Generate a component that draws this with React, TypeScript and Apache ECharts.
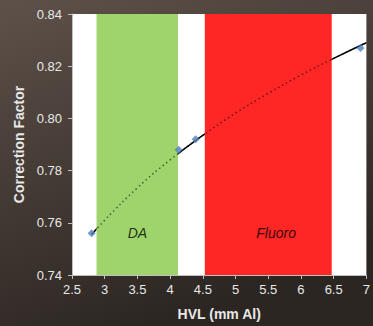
import React, { useEffect, useRef } from "react";
import * as echarts from "echarts";

const pointX = [2.8, 4.13, 4.39, 6.91];
const pointY = [0.756, 0.788, 0.792, 0.827];

const trendX = [2.8, 3, 3.5, 4, 4.5, 5, 5.5, 6, 6.5, 7];
const trendY = [0.7555, 0.761, 0.7734, 0.7841, 0.7935, 0.802, 0.8096, 0.8166, 0.823, 0.829];

const bandNames = ["DA", "Fluoro"];
const bandStart = [2.875, 4.53];
const bandEnd = [4.12, 6.47];
const bandLabelX = [3.5, 5.62];
const bandLabelY = [0.756, 0.756];

const yTicks = ["0.74", "0.76", "0.78", "0.80", "0.82", "0.84"];

export default function App() {
  const ref = useRef<HTMLDivElement>(null);
  useEffect(() => {
    document.body.style.margin = "0";
    const chart = echarts.init(ref.current!, null, { renderer: "svg" });
    const font = "Liberation Sans, Arial, sans-serif";
    const bandColors = ["#9fd36b", "#ff2626"];
    const trendData = trendX.map((x, i) => [x, trendY[i]]);
    chart.setOption({
      animation: false,
      backgroundColor: {
        type: "linear",
        x: 0,
        y: 0,
        x2: 0.4,
        y2: 1,
        colorStops: [
          { offset: 0, color: "#5e5149" },
          { offset: 1, color: "#2c2622" },
        ],
      },
      grid: { left: 72, right: 4, top: 14, bottom: 45, backgroundColor: "#ffffff", show: true, borderWidth: 0 },
      xAxis: {
        type: "value",
        min: 2.5,
        max: 7,
        interval: 0.5,
        name: "HVL (mm Al)",
        nameLocation: "middle",
        nameGap: 32,
        nameTextStyle: { color: "#e8e8e8", fontSize: 14, fontWeight: "bold", fontFamily: font },
        axisLine: { show: true, lineStyle: { color: "#bfbfbf", width: 1 } },
        axisTick: { show: true, length: 4, lineStyle: { color: "#bfbfbf" } },
        axisLabel: { color: "#e8e8e8", fontSize: 13, fontFamily: font, margin: 8 },
        splitLine: { show: false },
      },
      yAxis: {
        type: "value",
        min: 0.74,
        max: 0.84,
        interval: 0.02,
        name: "Correction Factor",
        nameLocation: "middle",
        nameGap: 45,
        nameTextStyle: { color: "#e8e8e8", fontSize: 14, fontWeight: "bold", fontFamily: font },
        axisLine: { show: true, lineStyle: { color: "#bfbfbf", width: 1 } },
        axisTick: { show: true, length: 4, lineStyle: { color: "#bfbfbf" } },
        axisLabel: {
          color: "#e8e8e8",
          fontSize: 13,
          fontFamily: font,
          margin: 10,
          formatter: (v: number) => {
            const s = v.toFixed(2);
            return yTicks.includes(s) ? s : "";
          },
        },
        splitLine: { show: false },
      },
      series: [
        {
          type: "line",
          data: trendData,
          smooth: true,
          showSymbol: false,
          lineStyle: { color: "#000000", width: 1.5 },
          z: 2,
        },
        {
          type: "line",
          data: [],
          z: 4,
          markArea: {
            silent: true,
            z: 4,
            data: bandNames.map((n, i) => [
              { xAxis: bandStart[i], yAxis: 0.74, itemStyle: { color: bandColors[i] } },
              { xAxis: bandEnd[i], yAxis: 0.84 },
            ]),
            label: { show: false },
          },
        },
        {
          type: "line",
          data: trendData,
          smooth: true,
          showSymbol: false,
          lineStyle: { color: "rgba(0,0,0,0.55)", width: 1.5, type: [1.5, 3] },
          z: 5,
        },
        {
          type: "scatter",
          data: bandNames.map((n, i) => ({ value: [bandLabelX[i], bandLabelY[i]], name: n })),
          symbolSize: 0,
          z: 6,
          label: {
            show: true,
            position: "inside",
            formatter: (p: any) => p.name,
            color: "#000000",
            fontSize: 14,
            fontStyle: "italic",
            fontFamily: font,
          },
        },
        {
          type: "scatter",
          data: pointX.map((x, i) => [x, pointY[i]]),
          symbol: "diamond",
          symbolSize: 8,
          itemStyle: { color: "#4f81bd" },
          z: 7,
        },
      ],
    });
    return () => chart.dispose();
  }, []);
  return <div ref={ref} style={{ position: "absolute", left: 0, top: 0, width: 373, height: 326 }} />;
}
